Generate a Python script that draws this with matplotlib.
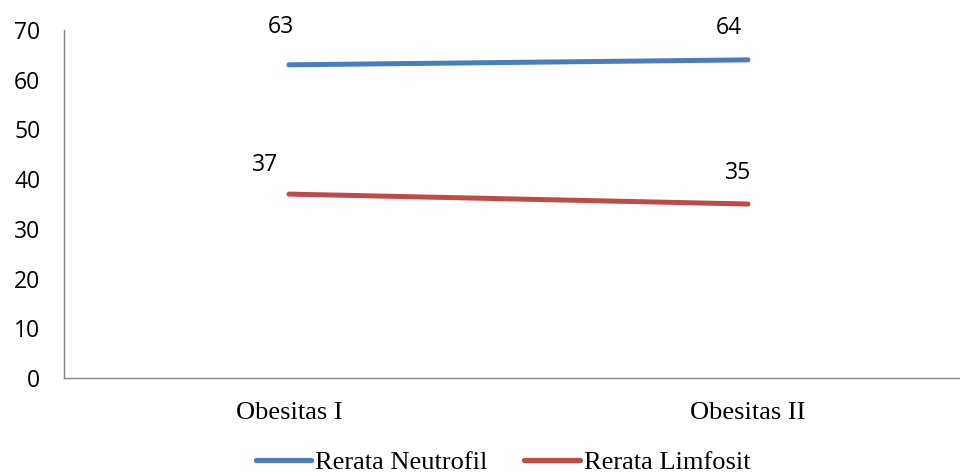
import matplotlib
matplotlib.use("Agg")
import matplotlib.pyplot as plt

categories = ["Obesitas I", "Obesitas II"]
neutrofil = [63, 64]
limfosit = [37, 35]
series_names = ["Rerata Neutrofil", "Rerata Limfosit"]

BLUE = "#4A7EBB"
RED = "#BE4B48"
AXIS_GREY = "#868686"
SANS = ["Open Sans", "DejaVu Sans"]

fig = plt.figure(figsize=(9.6, 4.73), dpi=100)
ax = fig.add_axes([0.0667, 0.2008, 0.9333, 0.7357])

x = list(range(len(categories)))
ax.plot(x, neutrofil, color=BLUE, lw=3.6, solid_capstyle="round", label=series_names[0])
ax.plot(x, limfosit, color=RED, lw=3.6, solid_capstyle="round", label=series_names[1])

# value labels sit above-left of each point (offsets in points)
offsets_n = [(-6, 27), (-14, 23)]
offsets_l = [(-17, 21), (-7, 22)]
for vals, offs in ((neutrofil, offsets_n), (limfosit, offsets_l)):
    for xi, v, off in zip(x, vals, offs):
        ax.annotate(str(v), (xi, v), xytext=off, textcoords="offset points",
                    ha="center", va="center", family=SANS, fontsize=16.5)

ax.set_xlim(-0.49, 1.462)
ax.set_ylim(0, 70)
ax.set_yticks(range(0, 71, 10))
ax.set_xticks(x)
ax.set_xticklabels(categories, family=["Liberation Serif"], fontsize=19)
for lbl in ax.get_yticklabels():
    lbl.set_family(SANS)
    lbl.set_fontsize(16.5)
ax.tick_params(axis="y", length=0, pad=17)
ax.tick_params(axis="x", length=0, pad=17)

for side in ("top", "right"):
    ax.spines[side].set_visible(False)
for side in ("left", "bottom"):
    ax.spines[side].set_color(AXIS_GREY)
    ax.spines[side].set_linewidth(1.0)

leg = fig.legend(loc="center", bbox_to_anchor=(0.524, 0.022), ncol=2, frameon=False,
                 prop={"family": "Liberation Serif", "size": 19},
                 handlelength=2.1, handletextpad=0.15, columnspacing=1.4,
                 borderpad=0)
for h in leg.get_lines():
    h.set_linewidth(3.8)
    h.set_solid_capstyle("round")

fig.savefig("out.png", dpi=100)
